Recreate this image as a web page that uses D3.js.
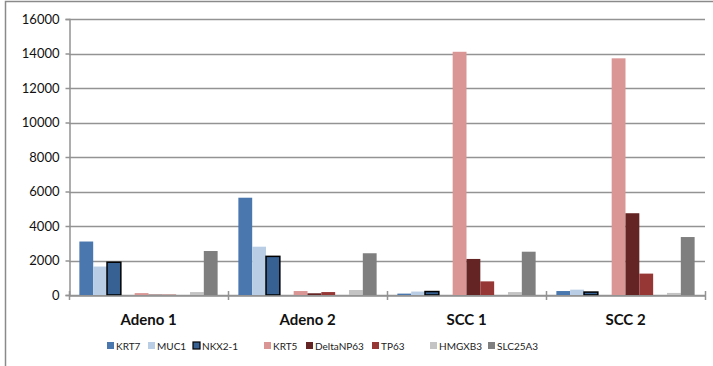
<!DOCTYPE html>
<html>
<head>
<meta charset="utf-8">
<script src="https://cdn.jsdelivr.net/npm/d3@7"></script>
<style>
  html, body { margin: 0; padding: 0; background: #fff; }
  svg { display: block; font-family: Lato, "Open Sans", sans-serif; }
</style>
</head>
<body>
<svg id="chart" width="713" height="366"></svg>
<script>
// Sample groups along the x axis
const categories = ["Adeno 1", "Adeno 2", "SCC 1", "SCC 2"];

// Series slots; empty names are spacer slots that keep the gene groups apart
const seriesNames = ["KRT7", "MUC1", "NKX2-1", "", "KRT5", "DeltaNP63", "TP63", "", "HMGXB3", "SLC25A3"];

// Expression values per series, one per category
const KRT7      = [3100, 5640,    80,   230];
const MUC1      = [1650, 2800,   200,   310];
const NKX2_1    = [1900, 2240,   200,   170];
const KRT5      = [ 110,  230, 14100, 13720];
const DeltaNP63 = [  20,  100,  2090,  4740];
const TP63      = [  20,  170,   790,  1240];
const HMGXB3    = [ 170,  290,   170,   120];
const SLC25A3   = [2550, 2420,  2510,  3360];

const yTicks = [0, 2000, 4000, 6000, 8000, 10000, 12000, 14000, 16000];

const seriesValues = [KRT7, MUC1, NKX2_1, null, KRT5, DeltaNP63, TP63, null, HMGXB3, SLC25A3];
const seriesColors = ["#4a78ae", "#b9cde5", "#376093", null, "#d99694", "#632423", "#963735", null, "#c4c4c4", "#7f7f7f"];

const svg = d3.select("#chart");
const margin = { left: 69, right: 8, top: 19, bottom: 71 };
const W = 713, H = 366;

// outer chart frame
svg.append("path")
  .attr("d", `M5.5,${H} V1.5 H${W}`)
  .attr("fill", "none").attr("stroke", "#8a8a8a").attr("stroke-width", 1.5);

const x = d3.scaleBand().domain(categories).range([margin.left, W - margin.right]).padding(0);
const y = d3.scaleLinear().domain([0, 16000]).range([H - margin.bottom, margin.top]);

// each category holds all series slots plus a 150% gap split on both sides
const bw = x.bandwidth() / (seriesNames.length + 1.5);
const off = bw * 0.75;

// horizontal gridlines
svg.append("g").selectAll("line").data(yTicks).join("line")
  .attr("x1", margin.left).attr("x2", W - margin.right)
  .attr("y1", d => Math.round(y(d)) + 0.5).attr("y2", d => Math.round(y(d)) + 0.5)
  .attr("stroke", "#939393").attr("stroke-width", 1.5);

// y axis with tick labels
const yAxis = d3.axisLeft(y).tickValues(yTicks).tickSize(4).tickPadding(6).tickFormat(d3.format("d"));
const gy = svg.append("g").attr("transform", `translate(${margin.left + 0.5},0)`).call(yAxis);
gy.select(".domain").attr("stroke", "#939393").attr("stroke-width", 1.5);
gy.selectAll(".tick line").attr("stroke", "#939393").attr("stroke-width", 1.5);
gy.selectAll(".tick text").attr("font-size", 13).attr("fill", "#111")
  .attr("font-family", "Lato, sans-serif");

// bars
seriesValues.forEach((vals, i) => {
  if (!vals) return;
  svg.append("g").selectAll("rect").data(categories.map((c, j) => ({ c, v: vals[j] }))).join("rect")
    .attr("x", d => x(d.c) + off + i * bw)
    .attr("width", bw)
    .attr("y", d => y(d.v))
    .attr("height", d => y(0) - y(d.v))
    .attr("fill", seriesColors[i])
    .attr("stroke", seriesNames[i] === "NKX2-1" ? "#000" : "none")
    .attr("stroke-width", seriesNames[i] === "NKX2-1" ? 1.5 : 0);
});

// x axis line
const xAxis = d3.axisBottom(x).tickSize(0).tickFormat("");
const gx = svg.append("g").attr("transform", `translate(0,${Math.round(y(0)) + 0.5})`).call(xAxis);
gx.select(".domain").attr("stroke", "#939393").attr("stroke-width", 1.5);

// category boundary ticks
const bounds = categories.map(c => x(c)).concat([x(categories[categories.length - 1]) + x.bandwidth()]);
svg.append("g").selectAll("line").data(bounds).join("line")
  .attr("x1", d => Math.round(d) + 0.5).attr("x2", d => Math.round(d) + 0.5)
  .attr("y1", y(0) - 4).attr("y2", y(0) + 5)
  .attr("stroke", "#939393").attr("stroke-width", 1.5);

// category labels
svg.append("g").selectAll("text").data(categories).join("text")
  .attr("x", d => x(d) + x.bandwidth() / 2)
  .attr("y", y(0) + 30)
  .attr("text-anchor", "middle")
  .attr("font-size", 15).attr("font-weight", "bold").attr("fill", "#111")
  .text(d => d);

// legend
const legendX = [107, 148, 193, null, 264, 306, 372, null, 430, 488];
const legendY = 346;
const lg = svg.append("g");
seriesNames.forEach((name, i) => {
  if (!name) return;
  lg.append("rect")
    .attr("x", legendX[i]).attr("y", legendY - 4)
    .attr("width", 7).attr("height", 7)
    .attr("fill", seriesColors[i])
    .attr("stroke", name === "NKX2-1" ? "#000" : "none")
    .attr("stroke-width", name === "NKX2-1" ? 1.2 : 0);
  lg.append("text")
    .attr("x", legendX[i] + 9).attr("y", legendY + 4)
    .attr("font-size", 10).attr("fill", "#222")
    .text(name);
});
</script>
</body>
</html>
